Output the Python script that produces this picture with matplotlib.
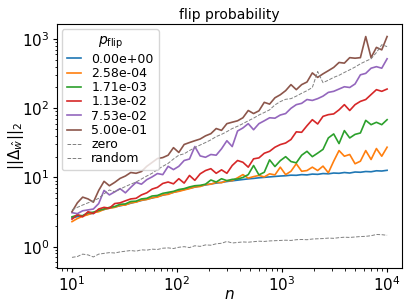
import numpy as np
import matplotlib
matplotlib.use("Agg")
import matplotlib.pyplot as plt

# sample sizes (log-spaced grid from 10 to 10^4, 60 points)
n_points = 60
n_values = np.logspace(1, 4, n_points)

labels = ["0.00e+00", "2.58e-04", "1.71e-03", "1.13e-02", "7.53e-02", "5.00e-01"]

p_0 = [2.60, 2.72, 2.80, 2.95, 3.05, 3.30, 3.45, 3.60, 3.75, 3.90,
       4.05, 4.25, 4.45, 4.65, 4.85, 5.05, 5.30, 5.55, 5.80, 6.10,
       6.40, 6.70, 7.00, 7.25, 7.55, 7.80, 8.05, 8.30, 8.50, 8.75,
       8.95, 9.15, 9.35, 9.55, 9.70, 9.90, 10.05, 10.2, 10.35, 10.5,
       10.6, 10.8, 10.75, 11.0, 10.9, 11.2, 11.1, 11.4, 11.3, 11.6,
       11.5, 11.8, 11.6, 12.0, 11.9, 12.2, 12.1, 12.5, 12.4, 12.7]

p_258e4 = [2.30, 2.55, 2.75, 2.90, 3.10, 3.20, 3.45, 3.60, 3.70, 3.95,
           4.00, 4.30, 4.40, 4.70, 4.80, 5.10, 5.20, 5.60, 5.70, 6.10,
           6.30, 6.60, 6.90, 7.30, 7.40, 7.90, 8.00, 8.50, 8.40, 9.00,
           9.00, 9.90, 11.0, 9.80, 10.3, 10.7, 10.2, 11.3, 10.9, 14.1,
           11.0, 12.3, 15.8, 12.3, 12.6, 14.1, 12.6, 14.6, 11.7, 17.2,
           24.5, 20.3, 21.5, 15.8, 17.2, 24.5, 18.2, 26.2, 20.3, 27.4]

p_171e3 = [2.70, 2.85, 2.80, 3.10, 3.15, 3.35, 3.50, 3.70, 3.80, 4.10,
           4.15, 4.50, 4.55, 4.90, 5.00, 5.40, 5.50, 5.90, 6.10, 6.30,
           6.70, 6.90, 7.30, 7.60, 7.70, 8.00, 9.20, 8.60, 9.60, 9.00,
           9.40, 9.50, 10.0, 11.0, 14.9, 10.9, 11.9, 18.0, 14.4, 17.5,
           20.0, 17.0, 16.3, 21.0, 23.9, 20.0, 22.5, 25.5, 37.3, 42.6,
           30.9, 47.6, 37.3, 42.0, 44.0, 67.0, 58.0, 62.8, 58.0, 68.5]

p_113e2 = [2.50, 2.90, 2.70, 3.20, 3.00, 3.50, 3.70, 3.60, 4.20, 4.30,
           4.60, 4.90, 5.00, 5.60, 6.00, 6.80, 7.20, 8.20, 8.60, 8.10,
           9.60, 8.30, 10.7, 9.10, 11.3, 12.6, 13.4, 11.5, 12.9, 11.5,
           14.9, 17.6, 16.6, 14.1, 18.6, 19.2, 22.4, 23.9, 27.4, 29.9,
           31.5, 35.4, 45.7, 45.0, 56.0, 68.5, 59.4, 76.5, 81.0, 83.0,
           95.0, 113, 93.0, 113, 126, 134, 158, 186, 176, 190]

p_753e2 = [3.10, 3.00, 3.30, 3.40, 3.50, 4.20, 6.50, 5.60, 6.20, 6.90,
           6.00, 7.20, 8.50, 8.00, 9.30, 10.2, 11.4, 11.0, 14.5, 13.0,
           14.5, 17.6, 18.5, 28.0, 20.5, 19.6, 21.5, 21.0, 26.0, 34.0,
           28.0, 47.0, 52.0, 60.0, 49.0, 60.0, 66.0, 73.0, 72.0, 80.0,
           84.0, 100, 113, 118, 134, 130, 138, 150, 170, 176,
           190, 205, 200, 225, 305, 320, 380, 400, 380, 520]

p_5e1 = [3.20, 4.30, 5.20, 4.90, 4.40, 6.50, 8.80, 7.60, 8.50, 9.70,
         10.5, 11.8, 11.5, 12.2, 14.5, 16.5, 18.8, 19.4, 21.0, 27.0,
         23.0, 30.0, 32.0, 34.0, 36.0, 40.0, 43.0, 51.0, 48.0, 60.0,
         63.0, 66.0, 73.0, 93.0, 84.0, 92.0, 122, 115, 142, 157,
         180, 220, 186, 220, 240, 325, 280, 315, 350, 390,
         460, 450, 540, 530, 540, 1090, 540, 760, 700, 1090]

zero = [3.40, 3.70, 4.00, 4.30, 4.60, 5.00, 5.80, 6.60, 6.20, 6.80,
        7.40, 8.00, 8.60, 9.50, 10.5, 11.5, 13.0, 14.5, 16.0, 18.5,
        21.0, 22.0, 24.5, 27.0, 29.5, 32.0, 35.0, 39.0, 42.0, 46.0,
        51.0, 55.0, 60.0, 66.0, 72.0, 80.0, 87.0, 95.0, 112, 125,
        135, 138, 150, 165, 180, 200, 340, 235, 255, 280,
        300, 330, 360, 395, 440, 480, 520, 640, 830, 780]

random_ = [0.70, 0.72, 0.78, 0.76, 0.71, 0.78, 0.80, 0.82, 0.81, 0.84,
           0.86, 0.88, 0.86, 0.90, 0.89, 0.92, 0.91, 0.95, 0.96, 0.94,
           0.98, 1.00, 0.97, 1.03, 1.01, 1.06, 1.05, 1.10, 1.12, 1.19,
           1.13, 1.15, 1.17, 1.16, 1.18, 1.20, 1.19, 1.21, 1.22, 1.23,
           1.24, 1.23, 1.26, 1.27, 1.26, 1.29, 1.30, 1.31, 1.33, 1.32,
           1.35, 1.37, 1.36, 1.38, 1.40, 1.41, 1.44, 1.50, 1.49, 1.46]

series = [p_0, p_258e4, p_171e3, p_113e2, p_753e2, p_5e1]

fig = plt.figure(figsize=(4.07, 3.05), dpi=100)
ax = fig.add_axes([0.140, 0.121, 0.848, 0.800])

for vals, lab in zip(series, labels):
    ax.plot(n_values, vals, lw=1.2, label=lab)
ax.plot(n_values, zero, ls="--", color="gray", lw=0.7, label="zero")
ax.plot(n_values, random_, ls="--", color="gray", lw=0.7, label="random")

ax.set_xscale("log")
ax.set_yscale("log")
ax.set_xlim(10 ** 0.857, 10 ** 4.143)
ax.set_ylim(0.49, 1650)
ax.tick_params(which="major", length=3, pad=2.5, labelsize=11)
ax.tick_params(which="minor", length=1.8)
ax.set_title("flip probability", fontsize=10, pad=4)
ax.set_xlabel(r"$n$", fontsize=11)
ax.xaxis.set_label_coords(0.5, -0.078)
ax.set_ylabel(r"$||\Delta_{\hat{w}}||_2$", fontsize=11, labelpad=-3)

ax.legend(loc="upper left", title=r"$p_{\mathrm{flip}}$", fontsize=9,
          title_fontsize=10, labelspacing=0.1, handlelength=1.15,
          handletextpad=0.8, borderpad=0.4, borderaxespad=0.4)

fig.savefig("out.png", dpi=100)
